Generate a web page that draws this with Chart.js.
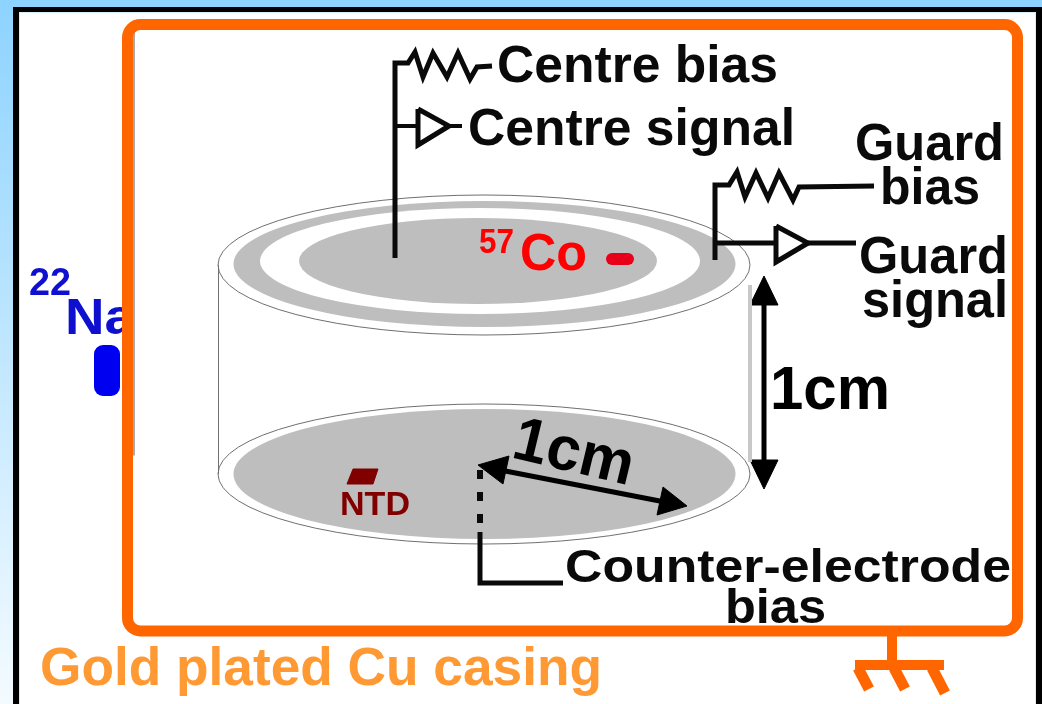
<!DOCTYPE html>
<html><head><meta charset="utf-8">
<style>html,body{margin:0;padding:0;background:#fff}canvas{display:block}</style>
<script src="https://cdn.jsdelivr.net/npm/chart.js@4/dist/chart.umd.min.js"></script>
</head><body><canvas id="c" width="1042" height="704"></canvas>
<script>
// Wires and marks, each a list of [x, y] readings on the picture's own scale
const centreWire=[[395,258],[395,63],[408,63],[415,52],[423,77],[433,53],[447,77],[458,53],[470,79],[477,67],[492,66]];
const centreStub=[[395,126],[418,126]];
const centreAmp=[[418,109],[418,145],[449,126],[418,109]];
const centreTail=[[449,126],[462,126]];
const guardWire=[[715,260],[715,185],[729,185],[737,172],[745,197],[756,173],[768,198],[779,173],[793,200],[799,187],[874,186]];
const guardStub=[[715,243],[776,243]];
const guardAmp=[[776,226],[776,262],[808,243],[776,226]];
const guardTail=[[808,243],[856,243]];
const cylLeft=[[218.5,265],[218.5,474]];
const cylRight=[[750,285],[750,462]];
const heightShaft=[[764,300],[764,465]];
const heightHeadTop=[[764,276],[750,305],[778,305],[764,276]];
const heightHeadBottom=[[764,489],[750,460],[778,460],[764,489]];
const radiusShaft=[[495,469],[670,503]];
const radiusHeadA=[[478,465],[509,456],[503,484],[478,465]];
const radiusHeadB=[[687,506],[663,487],[657,515],[687,506]];
const counterDash=[[480,470],[480,533]];
const counterWire=[[480,532],[480,583],[563,583]];
const ntdChip=[[353,469],[378,469],[373,484],[347,484],[353,469]];
const coSource=[[612,259],[628,259]];
const groundStem=[[892,636],[892,668]];
const groundBar=[[855,665],[944,665]];
const groundProngA=[[858,668],[869,689]];
const groundProngB=[[894,668],[905,689]];
const groundProngC=[[932,668],[945,693]];

// Ellipses: centre x, centre y, radius x, radius y
const topRim=[484,265,266,70];
const topGuard=[484.5,264,251,63];
const topGap=[480,261,220,53];
const topCentre=[478,261,179,43];
const bottomRim=[484,474,266,70];
const bottomElectrode=[484.5,474,251,65];

// Boxes: left, top, right, bottom
const casing=[127.5,24.5,1017.5,631];
const naBlock=[94,345,120,396];

// Labels
const labelText=["Centre bias","Centre signal","Guard","bias","Guard","signal","57","Co","NTD","1cm","1cm","Counter-electrode","bias","Gold plated Cu casing"];
const naText=["22","Na"];

const BLACK='#0a0a0a',ORANGE='#ff6600';
function line(data,color,width,extra){
  return Object.assign({data:data.map(p=>({x:p[0],y:p[1]})),showLine:true,borderColor:color,borderWidth:width,
    pointRadius:0,tension:0,fill:false,clip:false,borderJoinStyle:'miter',borderCapStyle:'butt'},extra||{});
}
function solid(data,color){return line(data,color,1,{fill:'shape',backgroundColor:color});}

const drawing={
  id:'drawing',
  beforeDatasetsDraw(chart){
    const c=chart.ctx,X=chart.scales.x,Y=chart.scales.y;
    const px=v=>X.getPixelForValue(v),py=v=>Y.getPixelForValue(v);
    const ell=(e,fill,stroke)=>{
      c.beginPath();c.ellipse(px(e[0]),py(e[1]),px(e[0]+e[2])-px(e[0]),py(e[1]+e[3])-py(e[1]),0,0,Math.PI*2);
      if(fill){c.fillStyle=fill;c.fill();}
      if(stroke){c.strokeStyle=stroke;c.lineWidth=1;c.stroke();}
    };
    c.save();
    const g=c.createLinearGradient(0,0,0,704);
    g.addColorStop(0,'#8dd3ff');g.addColorStop(1,'#f4fbff');
    c.fillStyle=g;c.fillRect(0,0,1042,704);
    c.fillStyle='#000';c.fillRect(13,7,1029,704);
    c.fillStyle='#d4eeff';c.fillRect(19,12,1017,704);
    c.fillStyle='#fff';c.fillRect(20,13,1015,704);
    c.fillStyle='#0f0fd0';
    text(c,px,py,naText[0],29,295,42,39);
    text(c,px,py,naText[1],65,334,70,50);
    c.beginPath();c.roundRect(px(naBlock[0]),py(naBlock[1]),px(naBlock[2])-px(naBlock[0]),py(naBlock[3])-py(naBlock[1]),9);
    c.fillStyle='#0000f0';c.fill();
    // casing shadow, fill and outline
    const [l,t,r,b]=casing;
    c.beginPath();c.roundRect(px(l)+2,py(t)+2,px(r)-px(l),py(b)-py(t),13);c.fillStyle='#cfcfcf';c.fill();
    c.beginPath();c.roundRect(px(l),py(t),px(r)-px(l),py(b)-py(t),13);c.fillStyle='#fff';c.fill();
    c.fillStyle='#555';c.fillRect(px(l)+6,py(t)+6,1,425);
    c.beginPath();c.roundRect(px(l),py(t),px(r)-px(l),py(b)-py(t),13);c.strokeStyle=ORANGE;c.lineWidth=11;c.stroke();
    // disc faces
    ell(bottomRim,'#fff','#707070');
    ell(bottomElectrode,'#bebebe');
    ell(topRim,'#fff','#707070');
    ell(topGuard,'#bebebe');
    ell(topGap,'#fff');
    ell(topCentre,'#bebebe');
    c.restore();
  },
  afterDatasetsDraw(chart){
    const c=chart.ctx,X=chart.scales.x,Y=chart.scales.y;
    const px=v=>X.getPixelForValue(v),py=v=>Y.getPixelForValue(v);
    c.save();
    c.fillStyle=BLACK;
    text(c,px,py,labelText[0],497,82,281,52);
    text(c,px,py,labelText[1],468,145,327,52);
    text(c,px,py,labelText[2],855,160,149,52);
    text(c,px,py,labelText[3],880,204,100,52);
    text(c,px,py,labelText[4],859,273,149,52);
    text(c,px,py,labelText[5],862,317,146,52);
    c.fillStyle='#ff0000';
    text(c,px,py,labelText[6],479,253,35,35);
    text(c,px,py,labelText[7],520,270,67,52);
    c.fillStyle='#800000';
    text(c,px,py,labelText[8],340,515,70,34);
    c.fillStyle='#000';
    text(c,px,py,labelText[9],770,409,120,62);
    text(c,px,py,labelText[10],510,457,122,62,13.5);
    c.fillStyle=BLACK;
    text(c,px,py,labelText[11],565,582,446,47);
    text(c,px,py,labelText[12],725,623,101,49);
    c.fillStyle='#ff9933';
    text(c,px,py,labelText[13],40,685,562,54);
    c.restore();
  }
};
function text(c,px,py,s,x,y,w,size,rot){
  c.save();
  c.font='bold '+size+'px "Liberation Sans",Arial,sans-serif';
  c.textBaseline='alphabetic';c.textAlign='left';
  c.filter='blur(0.6px)';
  c.translate(px(x),py(y));
  if(rot)c.rotate(rot*Math.PI/180);
  c.scale(w/c.measureText(s).width,1);
  c.fillText(s,0,0);
  c.restore();
}

new Chart(document.getElementById('c'),{
  type:'scatter',
  data:{datasets:[
    line(cylLeft,'#707070',1),
    line(cylRight,'#c8c8c8',4),
    line(centreWire,BLACK,5),
    line(centreStub,BLACK,4),
    line(centreAmp,BLACK,5),
    line(centreTail,BLACK,4),
    line(guardWire,BLACK,5),
    line(guardStub,BLACK,5),
    line(guardAmp,BLACK,5),
    line(guardTail,BLACK,5),
    line(heightShaft,'#000',5),
    solid(heightHeadTop,'#000'),
    solid(heightHeadBottom,'#000'),
    line(radiusShaft,'#000',5),
    solid(radiusHeadA,'#000'),
    solid(radiusHeadB,'#000'),
    line(counterDash,BLACK,6,{borderDash:[9,13]}),
    line(counterWire,BLACK,5),
    solid(ntdChip,'#800000'),
    line(coSource,'#e8001a',12,{borderCapStyle:'round'}),
    line(groundStem,ORANGE,10),
    line(groundBar,ORANGE,10),
    line(groundProngA,ORANGE,11),
    line(groundProngB,ORANGE,11),
    line(groundProngC,ORANGE,11)
  ]},
  options:{
    responsive:false,animation:false,
    layout:{padding:0},
    plugins:{legend:{display:false},tooltip:{enabled:false}},
    scales:{
      x:{type:'linear',display:false,min:0,max:1042},
      y:{type:'linear',display:false,min:0,max:704,reverse:true}
    }
  },
  plugins:[drawing]
});
</script></body></html>
